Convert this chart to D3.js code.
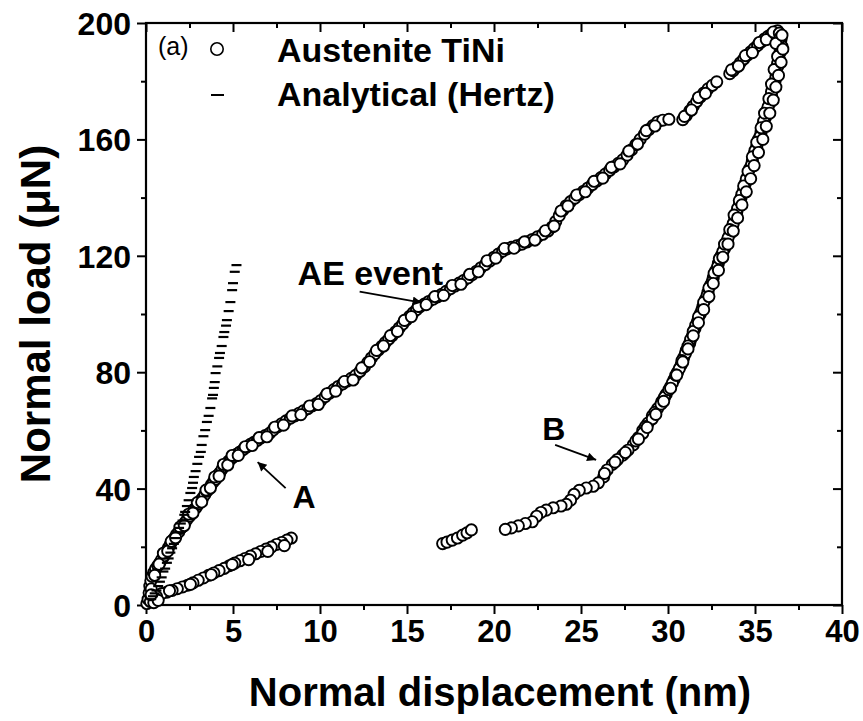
<!DOCTYPE html>
<html><head><meta charset="utf-8">
<script src="https://cdn.jsdelivr.net/npm/d3@7/dist/d3.min.js"></script>
<style>body{margin:0;background:#fff}svg{display:block}</style>
</head><body><svg id="c" width="863" height="721"></svg>
<script>
// ---------- DATA ----------
const loadingDisp = [0.05,0.12,0.18,0.22,0.28,0.35,0.45,0.55,0.68,0.80,0.92,1.05,1.15,1.28,1.40,1.52,1.63,1.75,1.88,2.00,2.12,2.25,2.38,2.50,2.62,2.75,2.88,3.00,3.12,3.25,3.38,3.50,3.62,3.75,3.88,4.00,4.12,4.25,4.38,4.50,4.62,4.75,4.90,5.05,5.20,5.40,5.60,5.80,6.00,6.20,6.40,6.60,6.85,7.10,7.30,7.55,7.80,8.05,8.30,8.55,8.80,9.05,9.30,9.55,9.80,10.05,10.30,10.55,10.80,11.05,11.30,11.55,11.80,12.05,12.30,12.55,12.75,12.95,13.15,13.35,13.55,13.75,13.95,14.15,14.35,14.55,14.75,14.95,15.15,15.35,15.55,15.75,16.00,16.25,16.50,16.75,17.00,17.25,17.50,17.75,18.00,18.25,18.50,18.75,19.00,19.25,19.50,19.75,20.00,20.25,20.50,20.75,21.00,21.30,21.60,21.90,22.20,22.50,22.80,23.10,23.35,23.55,23.75,23.95,24.15,24.40,24.65,24.90,25.15,25.40,25.65,25.90,26.15,26.40,26.65,26.90,27.15,27.40,27.65,27.90,28.15,28.40,28.65,28.90,29.15,29.40,29.70,30.05,30.85,31.05,31.25,31.45,31.65,31.85,32.05,32.30,32.55,32.80,33.55,33.75,33.95,34.15,34.35,34.55,34.75,34.95,35.15,35.35,35.55,35.75,35.95,36.15,36.30];
const loadingLoad = [0.5,2.0,4.2,6.5,8.3,9.8,11.2,12.4,13.5,14.6,15.8,16.9,18.3,19.6,20.8,22.1,23.0,24.2,25.1,26.3,27.0,28.4,29.6,30.5,31.4,32.8,33.5,34.6,35.8,36.7,37.9,39.1,40.0,41.3,42.4,43.2,44.6,45.5,46.8,47.6,48.5,49.4,50.3,51.0,51.8,52.6,53.5,54.3,55.2,55.9,56.6,57.4,58.2,59.0,60.1,61.2,62.3,63.3,64.2,65.0,65.9,66.7,67.5,68.4,69.2,70.3,71.6,72.8,74.0,75.1,76.0,76.9,77.9,78.9,80.3,81.8,83.4,84.9,86.3,87.6,88.9,90.2,91.4,92.6,93.9,95.2,96.5,97.9,99.2,100.4,101.5,102.5,103.4,104.3,105.1,105.9,106.8,107.8,108.7,109.6,110.6,111.5,112.4,113.5,114.7,115.9,117.0,118.2,119.5,120.6,121.6,122.4,122.9,123.4,124.0,124.8,125.6,126.5,127.4,128.5,129.9,131.8,133.8,135.6,137.2,138.6,139.8,141.0,142.2,143.3,144.5,145.7,146.9,148.1,149.4,150.6,151.8,153.0,154.6,156.4,158.2,160.0,161.8,163.4,164.8,166.0,166.6,166.9,166.8,168.2,169.8,171.4,173.0,174.5,175.9,177.4,178.6,179.8,182.6,183.6,184.9,186.3,187.6,188.9,190.1,191.2,192.3,193.4,194.5,195.4,196.2,196.9,197.3];
// second, scattered readings along the loading branch
const loading2Disp = [0.30,0.50,0.75,1.00,1.25,1.45,1.70,1.95,2.20,2.45,2.70,2.95,3.20,3.45,3.70,3.95,4.20,4.45,4.70,4.95,5.30,5.70,6.10,6.50,6.95,7.40,7.90,8.40,8.90,9.40,9.90,10.40,10.90,11.40,11.90,12.40,12.85,13.25,13.65,14.05,14.45,14.85,15.25,15.65,16.10,16.60,17.10,17.60,18.10,18.60,19.10,19.60,20.10,20.60,21.15,21.75,22.35,22.95,23.45,23.85,24.25,24.75,25.25,25.75,26.25,26.75,27.25,27.75,28.25,28.75,29.25,30.95,31.35,31.75,32.15,33.65,34.05,34.45,34.85,35.25,35.65,36.05];
const loading2Load = [5.5,10.2,14.0,17.8,18.5,21.9,23.1,26.8,27.3,31.2,31.6,35.2,35.4,39.5,40.2,44.0,44.3,48.3,48.1,51.4,51.4,54.4,54.8,57.5,57.8,61.1,61.8,65.0,65.4,68.4,68.9,72.6,73.5,76.8,77.3,81.5,83.6,87.5,89.0,92.6,94.0,97.8,99.1,102.6,103.2,106.0,106.4,109.8,110.2,113.6,114.5,118.3,119.2,122.5,122.6,124.8,125.4,128.6,130.2,135.4,137.1,140.9,142.0,145.6,146.7,150.4,151.6,156.0,158.4,163.0,164.6,167.9,170.1,174.4,175.8,183.9,185.2,188.8,189.8,193.3,194.3,196.9];

const unloadingDisp = [36.40,36.50,36.55,36.45,36.40,36.30,36.25,36.15,36.05,35.95,35.85,35.70,35.60,35.45,35.35,35.20,35.10,34.95,34.85,34.70,34.60,34.45,34.35,34.20,34.10,33.95,33.85,33.70,33.55,33.40,33.25,33.05,32.90,32.75,32.60,32.45,32.30,32.15,32.00,31.85,31.70,31.55,31.40,31.25,31.05,30.90,30.75,30.55,30.35,30.15,29.90,29.65,29.40,29.10,28.85,28.55,28.30,28.00,27.70,27.40,27.10,26.80,26.50,26.30,26.00,25.70,25.30,24.90,24.60,24.40,24.15,23.85,23.40,23.00,22.70,22.45,22.20,21.80,21.40,21.00,20.65,
  36.45,36.50,36.30,36.20,35.95,35.75,35.50,35.30,35.00,34.80,34.50,34.25,34.00,33.75,33.45,33.15,32.85,32.55,32.25,31.95,31.60,31.30,31.00,30.65,30.25,29.80,29.25,28.70,28.15,27.55,26.95,26.35,
  36.20,36.30,36.10,35.95,35.80,35.55,35.35,35.10,34.85,34.60,34.35,34.10,33.80,33.55,33.25,32.95,32.65,32.35,32.05,31.75,31.45,31.15,30.80,30.45,30.05,29.60,29.10,28.55,
  36.55,36.60,36.50,36.35,36.20,36.05,35.85,35.65,35.45,35.20,34.95,34.75,34.50,34.25,34.00,33.75,33.45,33.15,32.90,32.60,32.35,32.05,31.75,31.45,31.15,30.85,30.50,30.15,29.75,29.30,28.80,28.30];
const unloadingLoad = [196.5,194.5,192.0,190.0,187.5,185.0,182.5,180.0,177.5,175.0,172.5,170.0,167.5,165.0,162.5,160.0,157.5,155.0,152.5,150.0,147.5,145.0,142.5,140.0,137.5,135.0,132.5,130.0,127.5,125.0,122.5,120.0,117.5,115.0,112.5,110.0,107.5,105.0,102.5,100.0,97.5,95.0,92.5,90.0,87.5,85.0,82.5,80.0,77.5,75.0,72.5,70.0,67.5,65.0,62.5,60.0,57.5,55.0,53.2,51.5,50.0,48.3,46.4,44.0,42.0,40.8,40.2,39.4,38.0,36.0,34.6,34.0,33.4,32.6,31.8,30.5,28.6,28.0,27.2,26.5,26.0,
  195.0,191.2,186.1,181.3,176.4,171.2,166.3,161.1,156.2,151.3,146.4,141.2,136.3,131.1,126.2,121.4,116.3,111.2,106.4,101.3,96.2,91.3,86.4,81.2,76.3,71.4,66.2,61.3,56.4,52.4,49.1,45.2,
  193.0,188.5,184.0,179.0,174.0,169.0,164.0,159.0,154.0,149.0,144.0,139.0,134.0,129.0,124.0,119.0,114.0,109.0,104.0,99.0,94.0,89.0,84.0,79.0,74.0,69.0,64.0,59.0,
  195.8,191.0,186.5,182.0,178.0,173.5,169.0,164.5,160.0,155.5,151.0,146.5,142.0,137.5,133.0,128.5,124.0,119.5,115.0,110.5,106.0,101.5,97.0,92.5,88.0,83.5,79.0,74.5,70.0,65.5,61.0,57.0];

const clusterDisp = [17.05,17.30,17.60,17.90,18.20,18.45,18.70];
const clusterLoad = [21.1,21.6,22.3,23.0,24.0,24.8,25.8];

const lowerDisp = [8.35,8.10,7.80,7.50,7.20,6.90,6.60,6.30,6.00,5.70,5.40,5.10,4.80,4.50,4.20,3.90,3.60,3.30,3.00,2.70,2.40,2.10,1.80,1.50,1.20,0.90,0.60,0.40,0.25,0.45,0.70,0.30,7.95,7.00,5.90,4.95,3.75,2.55,1.35];
const lowerLoad = [23.0,22.3,21.5,20.8,19.9,19.2,18.4,17.6,16.8,16.0,15.2,14.4,13.5,12.6,11.8,11.0,10.2,9.3,8.5,7.6,6.8,6.2,5.6,5.0,4.4,3.9,3.0,2.2,1.2,0.8,1.6,3.5,20.4,18.4,15.6,13.9,10.4,7.1,4.9];

const hertzDisp = [0.30,0.40,0.50,0.60,0.70,0.80,0.90,1.00,1.10,1.20,1.30,1.40,1.50,1.60,1.70,1.80,1.90,2.00,2.10,2.20,2.25,2.35,2.45,2.55,2.65,2.70,2.75,2.85,2.95,3.05,3.15,3.20,3.30,3.40,3.50,3.60,3.70,3.80,3.85,3.90,3.95,4.00,4.10,4.20,4.25,4.35,4.45,4.50,4.60,4.65,4.75,4.85,4.95,5.00,5.10,5.20];
const hertzLoad = [2.0,3.0,4.0,5.0,6.5,8.0,9.5,11.5,12.5,14.5,16.0,18.0,19.5,21.0,23.0,25.0,26.5,28.0,29.0,31.0,32.0,34.0,36.0,38.5,40.2,42.0,44.0,46.0,48.5,50.9,52.6,55.0,58.0,60.1,62.9,65.0,67.7,71.0,72.2,74.6,76.6,79.7,82.0,84.9,86.6,89.0,92.1,93.8,96.0,97.9,101.0,104.1,108.2,110.6,114.5,116.8];

const xTickValues = [0,5,10,15,20,25,30,35,40];
const xMinorValues = [2.5,7.5,12.5,17.5,22.5,27.5,32.5,37.5];
const yTickValues = [0,40,80,120,160,200];
const yMinorValues = [20,60,100,140,180];
const seriesNames = ["Austenite TiNi","Analytical (Hertz)"];
const panelLabel = "(a)";
const xTitle = "Normal displacement (nm)";
const yTitle = "Normal load (\u03BCN)";
const notes = [{t:"AE event", x:16.3, y:104.6}, {t:"A", x:6.3, y:50.5}, {t:"B", x:26.1, y:49.5}];

// ---------- CHART ----------
const FONT = "'Liberation Sans', Arial, Helvetica, sans-serif";
const svg = d3.select("#c");
const L = 146, R = 842, T = 23, B = 605;
const x = d3.scaleLinear().domain([0,40]).range([L,R]);
const y = d3.scaleLinear().domain([0,200]).range([B,T]);

function zip(a,b){ return a.map((v,i)=>[v,b[i]]); }

function styleAxis(g){ g.select(".domain").remove(); g.selectAll("line").attr("stroke","#000").attr("stroke-width",2); }
svg.append("g").attr("transform",`translate(0,${B})`)
  .call(d3.axisBottom(x).tickValues(xTickValues).tickSize(9).tickPadding(6).tickFormat(d3.format("d")))
  .call(styleAxis)
  .call(g=>g.selectAll("text").attr("font-family",FONT).attr("font-weight","bold").attr("font-size",31).attr("fill","#000"));
svg.append("g").attr("transform",`translate(0,${B})`)
  .call(d3.axisBottom(x).tickValues(xMinorValues).tickSize(5).tickFormat(""))
  .call(styleAxis);
svg.append("g").attr("transform",`translate(${L},0)`)
  .call(d3.axisLeft(y).tickValues(yTickValues).tickSize(9).tickPadding(6).tickFormat(d3.format("d")))
  .call(styleAxis)
  .call(g=>g.selectAll("text").attr("font-family",FONT).attr("font-weight","bold").attr("font-size",32).attr("fill","#000").attr("dy","0.36em"));
svg.append("g").attr("transform",`translate(${L},0)`)
  .call(d3.axisLeft(y).tickValues(yMinorValues).tickSize(5).tickFormat(""))
  .call(styleAxis);
svg.append("g").attr("transform",`translate(0,${T})`)
  .call(d3.axisBottom(x).tickValues(xTickValues).tickSize(9).tickFormat("")).call(styleAxis);
svg.append("g").attr("transform",`translate(0,${T})`)
  .call(d3.axisBottom(x).tickValues(xMinorValues).tickSize(5).tickFormat("")).call(styleAxis);
svg.append("g").attr("transform",`translate(${R},0)`)
  .call(d3.axisLeft(y).tickValues(yTickValues).tickSize(9).tickFormat("")).call(styleAxis);
svg.append("g").attr("transform",`translate(${R},0)`)
  .call(d3.axisLeft(y).tickValues(yMinorValues).tickSize(5).tickFormat("")).call(styleAxis);

svg.append("rect").attr("x",L).attr("y",T).attr("width",R-L).attr("height",B-T)
  .attr("fill","none").attr("stroke","#000").attr("stroke-width",2.2);

const allPts = zip(loadingDisp,loadingLoad).concat(zip(loading2Disp,loading2Load), zip(unloadingDisp,unloadingLoad), zip(clusterDisp,clusterLoad), zip(lowerDisp,lowerLoad));
svg.append("g").selectAll("circle").data(allPts).join("circle")
  .attr("cx",d=>x(d[0])).attr("cy",d=>y(d[1])).attr("r",5.6)
  .attr("fill","#fff").attr("stroke","#000").attr("stroke-width",1.9);

svg.append("g").selectAll("line").data(zip(hertzDisp,hertzLoad)).join("line")
  .attr("x1",d=>x(d[0])-5).attr("x2",d=>x(d[0])+5).attr("y1",d=>y(d[1])).attr("y2",d=>y(d[1]))
  .attr("stroke","#000").attr("stroke-width",2.2);

// legend
const lg = svg.append("g").attr("font-family",FONT).attr("fill","#000");
lg.append("text").attr("x",158).attr("y",55).attr("font-size",25).text(panelLabel);
lg.append("circle").attr("cx",217).attr("cy",49).attr("r",6.2).attr("fill","#fff").attr("stroke","#000").attr("stroke-width",1.6);
lg.append("line").attr("x1",211).attr("x2",224).attr("y1",95).attr("y2",95).attr("stroke","#000").attr("stroke-width",2);
lg.append("text").attr("x",277).attr("y",62).attr("font-size",34).attr("font-weight","bold").text(seriesNames[0]);
lg.append("text").attr("x",277).attr("y",106).attr("font-size",34).attr("font-weight","bold").text(seriesNames[1]);

// annotations
svg.append("defs").append("marker").attr("id","ah").attr("viewBox","0 0 10 10").attr("refX",10).attr("refY",5)
  .attr("markerWidth",7).attr("markerHeight",5).attr("orient","auto")
  .append("path").attr("d","M0,0 L10,5 L0,10 z").attr("fill","#000");
function arrow(x1,y1,x2,y2){ svg.append("line").attr("x1",x1).attr("y1",y1).attr("x2",x2).attr("y2",y2)
  .attr("stroke","#000").attr("stroke-width",1.8).attr("marker-end","url(#ah)"); }
const an = svg.append("g").attr("font-family",FONT).attr("font-weight","bold").attr("fill","#000");
const n0x = x(notes[0].x), n0y = y(notes[0].y);
an.append("text").attr("x",n0x-132).attr("y",n0y-16).attr("font-size",34).text(notes[0].t);
arrow(n0x-70, n0y-9, n0x-8, n0y+2);
const n1x = x(notes[1].x), n1y = y(notes[1].y);
an.append("text").attr("x",n1x+37).attr("y",n1y+50).attr("font-size",32).text(notes[1].t);
arrow(n1x+30, n1y+30, n1x+2, n1y+4);
const n2x = x(notes[2].x), n2y = y(notes[2].y);
an.append("text").attr("x",n2x-58).attr("y",n2y-21).attr("font-size",32).text(notes[2].t);
arrow(n2x-45, n2y-16, n2x-4, n2y-1);

// axis titles
svg.append("text").attr("x",500).attr("y",706).attr("text-anchor","middle")
  .attr("font-family",FONT).attr("font-weight","bold").attr("font-size",40).text(xTitle);
svg.append("text").attr("transform",`translate(50,${(T+B)/2}) rotate(-90)`).attr("text-anchor","middle")
  .attr("font-family",FONT).attr("font-weight","bold").attr("font-size",42).text(yTitle);
</script></body></html>
